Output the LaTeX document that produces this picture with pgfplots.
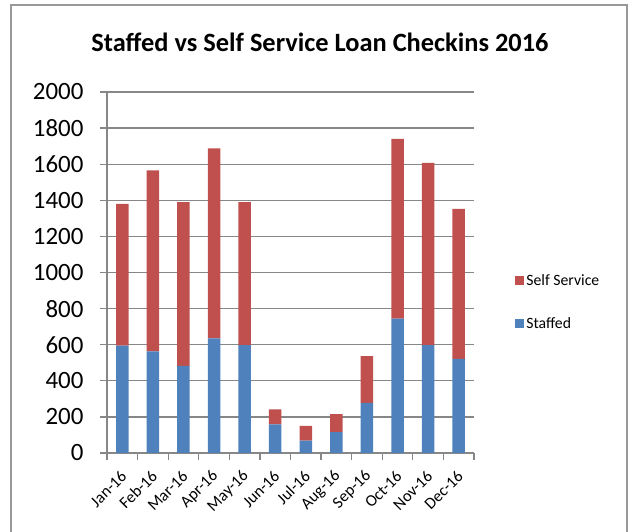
\documentclass[border=0pt]{standalone}
\usepackage{pgfplots}
\pgfplotsset{compat=1.18}
\usepackage{fontspec}
\setmainfont{Carlito}
\definecolor{sblue}{HTML}{4F81BD}
\definecolor{sred}{HTML}{C0504D}
\definecolor{gridg}{HTML}{878787}
\begin{document}
\begin{tikzpicture}[x=1bp,y=1bp]
\useasboundingbox (0,0) rectangle (632,532);
\draw[gridg!85, line width=1.6bp] (11,-5) -- (11,527) -- (627,527) -- (627,-5);
\node[font=\fontsize{26.5}{30}\selectfont\bfseries] at (320,490) {Staffed vs Self Service Loan Checkins 2016};
\begin{axis}[
  at={(107bp,79bp)}, anchor=south west,
  scale only axis, width=367bp, height=361bp,
  ybar stacked, bar width=12.5bp,
  xmin=-0.5, xmax=11.5, ymin=0, ymax=2000,
  xtick={-0.5,0.5,...,11.5},
  x tick label as interval,
  xticklabels={Jan-16,Feb-16,Mar-16,Apr-16,May-16,Jun-16,Jul-16,Aug-16,Sep-16,Oct-16,Nov-16,Dec-16,},
  ytick={0,200,...,2000},
  axis x line*=bottom, axis y line*=left,
  axis line style={gridg, line width=1.5bp},
  ymajorgrids, grid style={gridg, line width=1.3bp},
  tick align=outside, major tick length=7bp,
  tick style={gridg, line width=1.3bp},
  /pgf/number format/assume math mode=true,
  /pgf/number format/1000 sep={},
  scaled y ticks=false,
  yticklabel style={font=\fontsize{25}{29}\selectfont, xshift=-13bp},
  xticklabel style={font=\fontsize{16.5}{19}\selectfont, yshift=-12bp, xshift=3bp, rotate=45, anchor=east, inner sep=2bp},
  legend style={at={(1.104,0.418)}, anchor=west, draw=none, fill=none,
    font=\fontsize{15.8}{18}\selectfont, row sep=27bp},
  legend cell align=left,
  reverse legend,
  legend image code/.code={\fill[#1] (-1bp,-4.5bp) rectangle (8bp,4.5bp);},
]
\addplot[fill=sblue, draw=none] coordinates {(0,595) (1,563) (2,482) (3,635) (4,597) (5,159) (6,68) (7,116) (8,277) (9,744) (10,597) (11,521)};
\addlegendentry{Staffed}
\addplot[fill=sred, draw=none] coordinates {(0,785) (1,1003) (2,908) (3,1053) (4,793) (5,83) (6,82) (7,100) (8,260) (9,996) (10,1010) (11,831)};
\addlegendentry{Self Service}
\end{axis}
\end{tikzpicture}
\end{document}
